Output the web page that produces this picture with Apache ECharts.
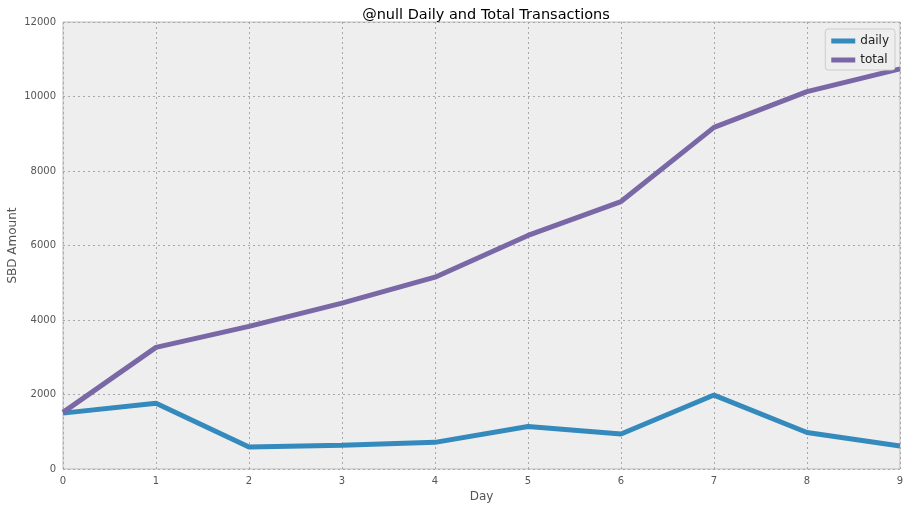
<!DOCTYPE html>
<html>
<head>
<meta charset="utf-8">
<script src="https://cdn.jsdelivr.net/npm/echarts@6/dist/echarts.min.js"></script>
<style>html,body{margin:0;padding:0;background:#fff}#c{width:910px;height:510px}</style>
</head>
<body>
<div id="c"></div>
<script>
const days = [0, 1, 2, 3, 4, 5, 6, 7, 8, 9];
const daily = [1500, 1765, 590, 640, 715, 1140, 940, 1985, 980, 620];
const total = [1520, 3265, 3830, 4455, 5150, 6270, 7180, 9170, 10130, 10740];
const seriesNames = ['daily', 'total'];
const titleText = '@null Daily and Total Transactions';

const font = 'DejaVu Sans';
const chart = echarts.init(document.getElementById('c'), null, {renderer: 'canvas'});
chart.setOption({
  animation: false,
  backgroundColor: '#ffffff',
  title: {
    text: titleText, left: 481, textAlign: 'center', top: 3,
    textStyle: {fontFamily: font, fontSize: 14.5, fontWeight: 'normal', color: '#000'}
  },
  legend: {
    data: seriesNames, orient: 'vertical', right: 15, top: 29,
    icon: 'rect', itemWidth: 24, itemHeight: 5, itemGap: 7,
    backgroundColor: '#eeeeee', borderColor: '#cccccc', borderWidth: 1, borderRadius: 3,
    padding: [6, 6, 4, 6],
    textStyle: {fontFamily: font, fontSize: 12, color: '#222'}
  },
  grid: {
    left: 63, right: 10, top: 22, bottom: 41, show: true,
    containLabel: false, outerBoundsMode: 'none',
    backgroundColor: '#eeeeee', borderColor: '#bcbcbc', borderWidth: 1
  },
  xAxis: {
    type: 'value', min: 0, max: 9, interval: 1,
    name: 'Day', nameLocation: 'middle', nameGap: 22, nameMoveOverlap: false,
    nameTextStyle: {fontFamily: font, fontSize: 12, color: '#555'},
    axisLine: {show: false}, axisTick: {show: false},
    axisLabel: {fontFamily: font, fontSize: 10, color: '#555', margin: 7, formatter: v => String(v)},
    splitLine: {show: true, lineStyle: {color: '#a8a8a8', type: [2, 3], width: 1}}
  },
  yAxis: {
    type: 'value', min: 0, max: 12000, interval: 2000,
    name: 'SBD Amount', nameLocation: 'middle', nameGap: 44, nameMoveOverlap: false,
    nameTextStyle: {fontFamily: font, fontSize: 12, color: '#555'},
    axisLine: {show: false}, axisTick: {show: false},
    axisLabel: {fontFamily: font, fontSize: 10, color: '#555', margin: 7, formatter: v => String(v)},
    splitLine: {show: true, lineStyle: {color: '#a8a8a8', type: [2, 3], width: 1}}
  },
  series: [
    {name: 'daily', type: 'line', data: days.map((d, i) => [d, daily[i]]),
     showSymbol: false, symbol: 'none', lineStyle: {width: 5, color: '#348ABD'}, itemStyle: {color: '#348ABD'}},
    {name: 'total', type: 'line', data: days.map((d, i) => [d, total[i]]),
     showSymbol: false, symbol: 'none', lineStyle: {width: 5, color: '#7A68A6'}, itemStyle: {color: '#7A68A6'}}
  ]
});
</script>
</body>
</html>
